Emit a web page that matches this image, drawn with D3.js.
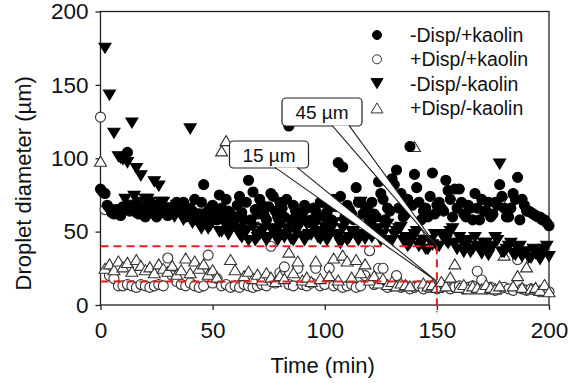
<!DOCTYPE html>
<html>
<head>
<meta charset="utf-8">
<script src="https://cdn.jsdelivr.net/npm/d3@7"></script>
<style>
  body { margin: 0; background: #fff; }
  svg text { font-family: "Liberation Sans", Arial, sans-serif; fill: #111; }
</style>
</head>
<body>
<figure id="chart" style="margin:0"></figure>
<script>
// sampling times (min)
const times = [0,2,4,6,8,10,12,14,16,18,20,22,24,26,28,30,32,34,36,38,40,42,44,46,48,50,
  52,54,56,58,60,62,64,66,68,70,72,74,76,78,80,82,84,86,88,90,92,94,96,98,100,
  102,104,106,108,110,112,114,116,118,120,122,124,126,128,130,132,134,136,138,140,
  142,144,146,148,150,152,154,156,158,160,162,164,166,168,170,172,174,176,178,180,
  182,184,186,188,190,192,194,196,198,200];
// the two "-Disp" runs were also sampled in between
const timesMid = [1,3,5,7,9,11,13,15,17,19,21,23,25,27,29,31,33,35,37,39,41,43,45,47,49,
  51,53,55,57,59,61,63,65,67,69,71,73,75,77,79,81,83,85,87,89,91,93,95,97,99,
  101,103,105,107,109,111,113,115,117,119,121,123,125,127,129,131,133,135,137,139,
  141,143,145,147,149,151,153,155,157,159,161,163,165,167,169,171,173,175,177,179,
  181,183,185,187,189,191,193,195,197,199];

// -Disp/+kaolin (filled circles)
const minusDispPlusKaolin = [79,76,66,62,64,67,104,65,63,66,60,68,64,62,66,61,64,70,63,60,
  66,72,62,82,64,68,58,66,72,62,60,74,58,85,77,62,68,58,76,64,
  70,60,122,68,56,62,66,58,64,70,60,66,72,97,94,68,62,80,70,64,
  58,62,84,72,66,86,92,76,62,108,89,70,64,60,90,68,66,85,72,79,
  79,62,68,58,66,72,64,60,70,82,66,60,76,87,72,64,63,61,60,58,54];
const minusDispPlusKaolinMid = [77,68,63,65,61,66,64,67,62,65,69,63,60,67,65,62,68,64,70,62,
  64,60,70,58,66,62,75,60,64,57,68,63,70,58,65,72,61,67,74,60,
  66,72,58,64,61,68,56,66,60,70,63,58,67,74,60,65,58,70,62,66,
  70,60,76,58,64,82,66,60,72,68,80,58,66,74,62,70,64,78,60,66,
  70,60,66,76,58,64,70,62,68,74,60,66,72,58,68,64,62,60,58,56];

// +Disp/+kaolin (open circles)
const plusDispPlusKaolin = [128,65,20,18,13,13,14,13,12,14,13,12,13,14,13,32,20,16,14,13,
  15,13,12,13,34,15,18,13,14,12,13,12,14,13,12,13,14,13,40,15,
  22,26,14,13,25,14,13,15,25,13,14,25,13,14,12,13,14,12,13,20,
  37,14,25,25,12,13,20,12,13,11,12,13,11,12,13,11,12,13,11,12,
  13,11,12,13,23,17,11,12,10,11,12,11,10,31,11,10,11,10,9,10,9];

// -Disp/-kaolin (filled down triangles)
const minusDispMinusKaolin = [null,175,143,117,101,99,97,124,93,88,72,70,84,81,70,66,64,68,62,60,
  120,58,55,62,52,57,60,50,55,52,56,48,51,44,53,46,50,44,52,48,
  54,46,50,44,52,47,55,48,50,45,53,48,56,46,52,44,50,47,70,45,
  55,58,52,48,55,44,50,53,46,42,48,40,44,38,41,40,48,44,50,42,
  46,36,44,38,40,35,42,38,46,96,36,40,35,38,33,36,32,35,31,38,33];
const minusDispMinusKaolinMid = [null,null,null,null,100,72,68,74,70,66,72,64,68,70,62,66,60,64,58,62,
  56,60,52,58,54,62,50,56,48,54,52,46,50,56,44,48,52,46,50,44,
  48,52,45,50,56,44,48,53,46,50,44,52,48,42,55,46,50,44,48,52,
  46,50,44,54,42,48,52,44,40,46,50,42,38,44,48,40,46,42,52,38,
  44,40,36,46,38,42,34,40,44,36,38,42,34,40,36,32,38,34,36,40];

// +Disp/-kaolin (open up triangles)
const plusDispMinusKaolin = [98,25,28,24,30,26,29,23,31,27,24,26,22,28,25,23,27,21,24,32,
  22,30,25,28,21,24,19,105,112,31,24,61,20,23,18,21,17,22,19,16,
  20,18,36,22,30,17,19,16,30,18,64,20,32,17,34,30,19,31,22,28,
  17,20,15,18,14,16,13,15,14,13,108,51,15,13,14,12,16,13,19,28,
  12,14,11,13,12,11,14,12,11,13,34,71,13,20,12,26,11,12,10,14,9];

const seriesNames = ["-Disp/+kaolin", "+Disp/+kaolin", "-Disp/-kaolin", "+Disp/-kaolin"];
const xTicks = [0, 50, 100, 150, 200];
const yTicks = [0, 50, 100, 150, 200];
// reference levels (µm) and the time they end at
const refLevels = [40, 16];
const refTime = 150;
const callouts = [
  { label: "45 µm", level: 40 },
  { label: "15 µm", level: 16 }
];

const W = 579, H = 383;
const margin = { left: 100.5, right: 30, top: 11.5, bottom: 78 };
const width = W - margin.left - margin.right;
const height = H - margin.top - margin.bottom;

const svg = d3.select("figure#chart").append("svg")
  .attr("width", W).attr("height", H);
const g = svg.append("g").attr("transform", `translate(${margin.left},${margin.top})`);

const x = d3.scaleLinear().domain([0, 200]).range([0, width]);
const y = d3.scaleLinear().domain([0, 200]).range([height, 0]);

// axes
const xAxis = g.append("g").attr("transform", `translate(0,${height})`)
  .call(d3.axisBottom(x).tickValues(xTicks).tickSize(5).tickPadding(12));
const yAxis = g.append("g")
  .call(d3.axisLeft(y).tickValues(yTicks).tickSize(5).tickPadding(7));
[xAxis, yAxis].forEach(a => {
  a.select(".domain").remove();
  a.selectAll("line").attr("stroke", "#222").attr("stroke-width", 1.3);
  a.selectAll("text").style("font-size", "22.5px").attr("fill", "#111");
});

// frame
g.append("rect").attr("width", width).attr("height", height)
  .attr("fill", "none").attr("stroke", "#222").attr("stroke-width", 1.3);

// markers
const tri = (cx, cy, down) => {
  const hw = 6, hh = 5;
  return down
    ? `M${cx - hw},${cy - hh}L${cx + hw},${cy - hh}L${cx},${cy + hh}Z`
    : `M${cx - hw},${cy + hh}L${cx + hw},${cy + hh}L${cx},${cy - hh}Z`;
};
const styles = [
  { kind: "circle", fill: "#000", stroke: "#000" },
  { kind: "circle", fill: "#fff", stroke: "#333" },
  { kind: "down", fill: "#000", stroke: "#000" },
  { kind: "up", fill: "#fff", stroke: "#333" }
];
const pairs = (ts, vs) => ts.map((t, i) => ({ t, v: vs[i] }));
const allData = [
  pairs(times, minusDispPlusKaolin).concat(pairs(timesMid, minusDispPlusKaolinMid)),
  pairs(times, plusDispPlusKaolin),
  pairs(times, minusDispMinusKaolin).concat(pairs(timesMid, minusDispMinusKaolinMid)),
  pairs(times, plusDispMinusKaolin)
].map(s => s.filter(d => d.v != null).sort((a, b) => a.t - b.t));
const R = 5;

function drawMark(sel, st, cx, cy) {
  if (st.kind === "circle") {
    sel.append("circle").attr("cx", cx).attr("cy", cy).attr("r", R - 0.5)
      .attr("fill", st.fill).attr("stroke", st.stroke).attr("stroke-width", 1);
  } else {
    sel.append("path").attr("d", tri(cx, cy, st.kind === "down"))
      .attr("fill", st.fill).attr("stroke", st.stroke).attr("stroke-width", 1);
  }
}

// open markers under the filled ones
[1, 3, 0, 2].forEach(si => {
  const layer = g.append("g");
  const st = styles[si];
  const data = allData[si];
  if (st.kind === "circle") {
    layer.selectAll("circle").data(data).enter().append("circle")
      .attr("cx", d => x(d.t)).attr("cy", d => y(d.v)).attr("r", R)
      .attr("fill", st.fill).attr("stroke", st.stroke).attr("stroke-width", 1.1);
  } else {
    layer.selectAll("path").data(data).enter().append("path")
      .attr("d", d => tri(x(d.t), y(d.v), st.kind === "down"))
      .attr("fill", st.fill).attr("stroke", st.stroke).attr("stroke-width", 1.1);
  }
});

// red dashed reference lines
const red = g.append("g").attr("stroke", "#e3201f").attr("stroke-width", 2)
  .attr("stroke-dasharray", "8,5").attr("fill", "none");
refLevels.forEach(v => {
  red.append("line").attr("x1", x(0)).attr("x2", x(refTime))
    .attr("y1", y(v)).attr("y2", y(v));
});
red.append("line").attr("x1", x(refTime)).attr("x2", x(refTime))
  .attr("y1", y(d3.max(refLevels))).attr("y2", y(-5));

// callouts (box position in px relative to the plot)
const boxes = [
  { bx: 181.5, by: 86.5, bw: 80, bh: 28, p1: 231.5, p2: 248.5 },
  { bx: 129, by: 129.5, bw: 79, bh: 27, p1: 174.5, p2: 196.5 }
];
callouts.forEach((c, i) => {
  const b = boxes[i];
  const cg = g.append("g");
  cg.append("rect").attr("x", b.bx).attr("y", b.by).attr("width", b.bw).attr("height", b.bh)
    .attr("rx", 4).attr("fill", "#fff").attr("stroke", "#222").attr("stroke-width", 1.2);
  const tx = x(refTime), ty = y(c.level);
  cg.append("path")
    .attr("d", `M${b.p1},${b.by + b.bh - 0.6}L${tx},${ty}L${b.p2},${b.by + b.bh - 0.6}`)
    .attr("fill", "#fff").attr("stroke", "#222").attr("stroke-width", 1.1);
  cg.append("text").attr("x", b.bx + b.bw / 2).attr("y", b.by + b.bh / 2 + 7)
    .attr("text-anchor", "middle").style("font-size", "19px").text(c.label);
});

// legend
const legend = g.append("g").attr("transform", `translate(${377 - margin.left},0)`);
seriesNames.forEach((name, i) => {
  const ly = 35 - margin.top + i * 24.3;
  drawMark(legend, styles[i], 0, ly);
  legend.append("text").attr("x", 33).attr("y", ly + 7)
    .style("font-size", "19.5px").text(name);
});

// axis titles
svg.append("text").attr("x", margin.left + width / 2 - 2).attr("y", 373)
  .attr("text-anchor", "middle").style("font-size", "22px").text("Time (min)");
svg.append("text").attr("transform", `translate(31,${margin.top + height / 2 + 25}) rotate(-90)`)
  .attr("text-anchor", "middle").style("font-size", "22px").text("Droplet diameter (µm)");
</script>
</body>
</html>
